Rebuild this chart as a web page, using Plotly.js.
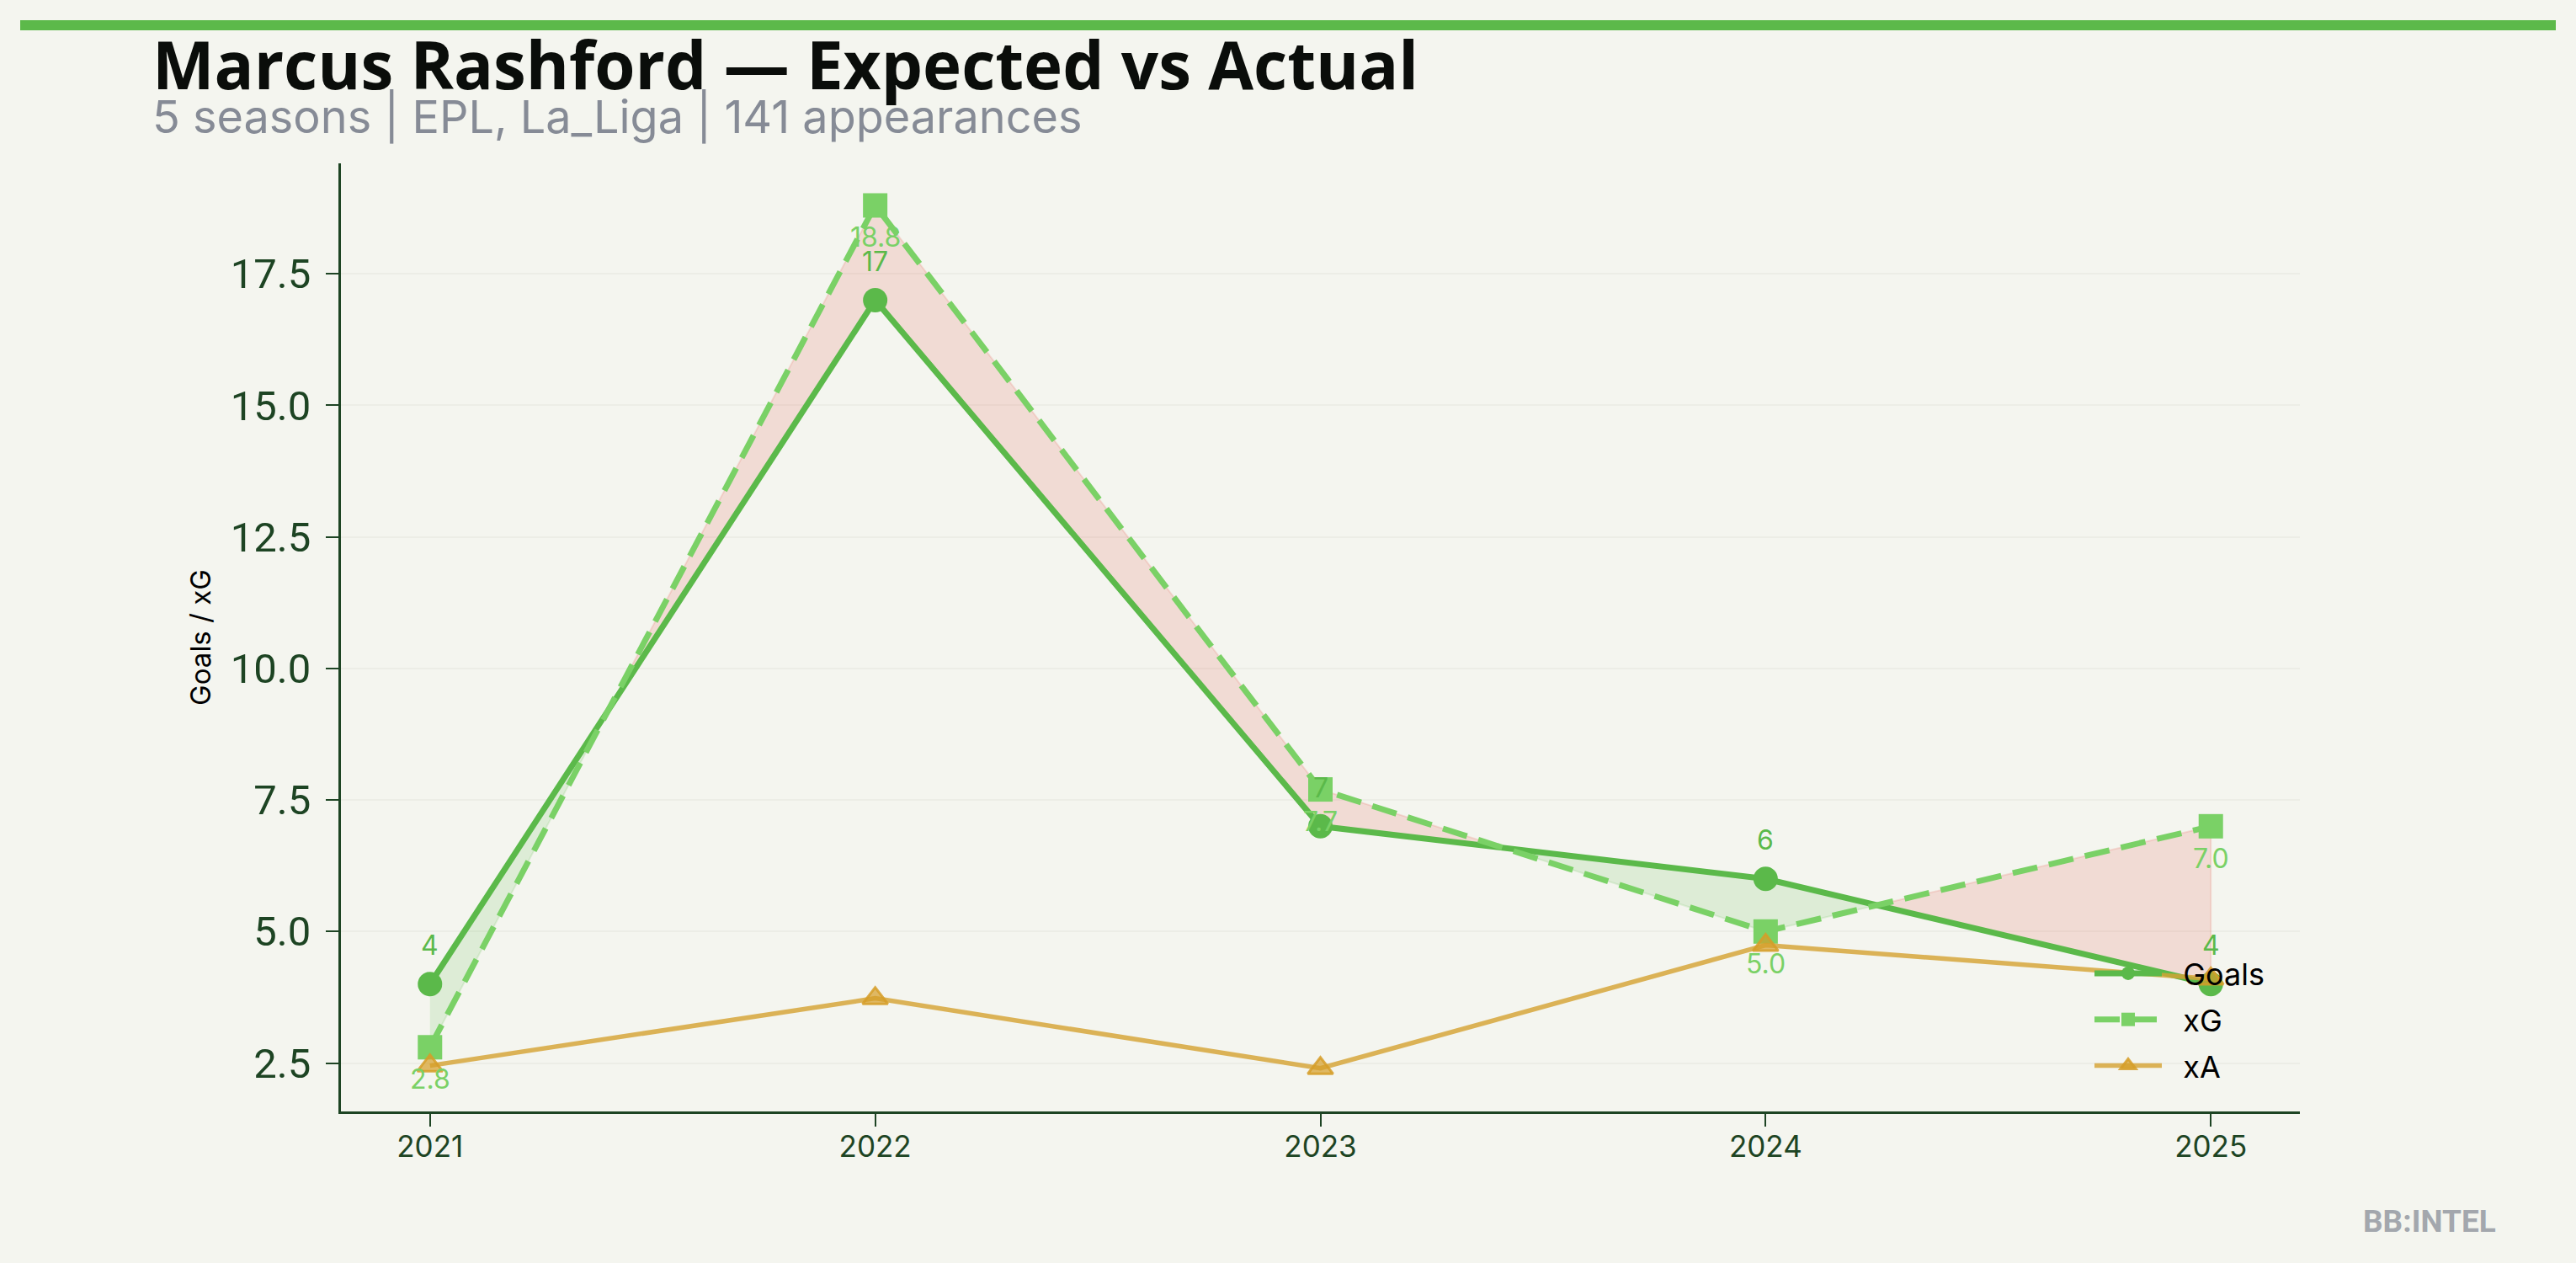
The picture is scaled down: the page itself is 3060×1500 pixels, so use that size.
<!DOCTYPE html>
<html>
<head>
<meta charset="utf-8">
<script src="https://cdn.plot.ly/plotly-3.0.1.min.js"></script>
<style>
html,body{margin:0;padding:0;background:#f4f5ef;}
#chart{width:3060px;height:1500px;}
</style>
</head>
<body>
<div id="chart"></div>
<script>
// ---- data ----
const seasons = [2021, 2022, 2023, 2024, 2025];
const goals = [4, 17, 7, 6, 4];
const xg = [2.8, 18.8, 7.7, 5.0, 7.0];
const xa = [2.45, 3.73, 2.40, 4.74, 4.1];
const goalLabels = ['4', '17', '7', '6', '4'];
const xgLabels = ['2.8', '18.8', '7.7', '5.0', '7.0'];
const seriesNames = ['Goals', 'xG', 'xA'];
const yTickVals = [2.5, 5, 7.5, 10, 12.5, 15, 17.5];
const yTickText = ['2.5', '5.0', '7.5', '10.0', '12.5', '15.0', '17.5'];
const titleText = 'Marcus Rashford — Expected vs Actual';
const subtitleText = '5 seasons | EPL, La_Liga | 141 appearances';
const yTitle = 'Goals / xG';
const watermark = 'BB:INTEL';

// ---- layout geometry ----
const W = 3060, H = 1500;
const L = 405, R = 2732, T = 194, B = 1320;
const px = x => (x - L) / (R - L);
const py = y => (B - y) / (B - T);

const BG = '#f4f5ef';
const GOALS_C = '#5bb94a';
const XG_C = '#7ad166';
const XA_C = 'rgba(214,163,52,0.82)';
const AX_C = '#1d4423';
const PAD = '\u00a0\u00a0';

// ---- fill regions between goals and xG (split at crossings) ----
const pts = [];
for (let i = 0; i < seasons.length; i++) {
  pts.push({x: seasons[i], g: goals[i], e: xg[i], cross: false});
  if (i < seasons.length - 1) {
    const d0 = goals[i] - xg[i], d1 = goals[i + 1] - xg[i + 1];
    if (d0 * d1 < 0) {
      const t = d0 / (d0 - d1);
      pts.push({
        x: seasons[i] + t * (seasons[i + 1] - seasons[i]),
        g: goals[i] + t * (goals[i + 1] - goals[i]),
        e: xg[i] + t * (xg[i + 1] - xg[i]),
        cross: true
      });
    }
  }
}
const fillTraces = [];
let start = 0;
for (let k = 1; k < pts.length; k++) {
  if (pts[k].cross || k === pts.length - 1) {
    const seg = pts.slice(start, k + 1);
    const midG = (seg[0].g + seg[1].g) / 2, midE = (seg[0].e + seg[1].e) / 2;
    const over = midG >= midE;
    const xs = seg.map(p => p.x).concat(seg.slice().reverse().map(p => p.x));
    const ys = seg.map(p => p.g).concat(seg.slice().reverse().map(p => p.e));
    fillTraces.push({
      x: xs, y: ys, type: 'scatter', mode: 'lines', fill: 'toself',
      fillcolor: over ? 'rgba(91,185,74,0.15)' : 'rgba(231,76,60,0.15)',
      line: {color: over ? 'rgba(91,185,74,0.15)' : 'rgba(231,76,60,0.15)', width: 2},
      hoverinfo: 'skip', showlegend: false, legendgroup: 'fill'
    });
    start = k;
  }
}

const traces = fillTraces.concat([
  {
    x: seasons, y: goals, name: PAD + seriesNames[0], legendgroup: 'g', type: 'scatter', mode: 'lines+markers',
    line: {color: GOALS_C, width: 7},
    marker: {color: GOALS_C, size: 29, symbol: 'circle'}
  },
  {
    x: seasons, y: xg, name: PAD + seriesNames[1], legendgroup: 'x', type: 'scatter', mode: 'lines+markers',
    line: {color: XG_C, width: 7, dash: '30px,14px'},
    marker: {color: XG_C, size: 29, symbol: 'square'}
  },
  {
    x: seasons, y: xa, name: PAD + seriesNames[2], legendgroup: 'a', type: 'scatter', mode: 'lines+markers',
    line: {color: XA_C, width: 5.5},
    marker: {color: 'rgba(214,158,40,0.7)', size: 26, symbol: 'triangle-up',
             line: {color: 'rgba(214,158,40,0.85)', width: 3}}
  }
]);

const annotations = [];
seasons.forEach((s, i) => {
  annotations.push({
    x: s, y: goals[i], xref: 'x', yref: 'y', text: goalLabels[i], showarrow: false,
    yshift: 46, font: {family: 'Inter', size: 32, color: GOALS_C}
  });
  annotations.push({
    x: s, y: xg[i], xref: 'x', yref: 'y', text: xgLabels[i], showarrow: false,
    yshift: -38, font: {family: 'Inter', size: 32, color: XG_C}
  });
});
annotations.push({
  xref: 'paper', yref: 'paper', x: px(179), y: py(76), xanchor: 'left', yanchor: 'middle',
  text: '<b>' + titleText + '</b>', showarrow: false,
  font: {family: 'Open Sans', size: 78, color: '#0a0d0a', weight: 800}
});
annotations.push({
  xref: 'paper', yref: 'paper', x: px(179), y: py(138), xanchor: 'left', yanchor: 'middle',
  text: subtitleText, showarrow: false,
  font: {family: 'Inter', size: 54, color: '#868b96'}
});
annotations.push({
  xref: 'paper', yref: 'paper', x: px(2967), y: py(1450), xanchor: 'right', yanchor: 'middle',
  text: '<b>' + watermark + '</b>', showarrow: false,
  font: {family: 'Roboto', size: 37, color: '#a3a7ad'}
});

const layout = {
  width: W, height: H,
  paper_bgcolor: BG, plot_bgcolor: BG,
  margin: {l: L, r: W - R, t: T, b: H - B, pad: 0},
  showlegend: true,
  legend: {
    x: px(2483), y: py(1296), xanchor: 'left', yanchor: 'bottom',
    bgcolor: 'rgba(0,0,0,0)', borderwidth: 0,
    font: {family: 'Inter', size: 36, color: '#000000'},
    itemwidth: 80, tracegroupgap: 5, traceorder: 'grouped'
  },
  xaxis: {
    range: [2020.8, 2025.2], tickmode: 'array', tickvals: seasons,
    ticktext: seasons.map(String),
    showgrid: false, zeroline: false,
    showline: true, linecolor: AX_C, linewidth: 3,
    ticks: 'outside', ticklen: 15, tickwidth: 2, tickcolor: AX_C,
    tickfont: {family: 'Inter', size: 35, color: AX_C},
    ticklabelstandoff: -6
  },
  yaxis: {
    range: [1.58, 19.6], tickmode: 'array', tickvals: yTickVals,
    ticktext: yTickText,
    showgrid: true, gridcolor: '#ecede6', gridwidth: 2, zeroline: false,
    showline: true, linecolor: AX_C, linewidth: 3,
    ticks: 'outside', ticklen: 15, tickwidth: 2, tickcolor: AX_C,
    tickfont: {family: 'Roboto', size: 49, color: AX_C},
    ticklabelstandoff: 8,
    title: {text: yTitle, font: {family: 'Inter', size: 33, color: '#000000'}, standoff: 14}
  },
  shapes: [{
    type: 'rect', xref: 'paper', yref: 'paper',
    x0: px(24), x1: px(3036), y0: py(36), y1: py(24),
    fillcolor: '#5cb94a', line: {width: 0}
  }],
  annotations: annotations
};

Plotly.newPlot('chart', traces, layout, {displayModeBar: false, staticPlot: true});
</script>
</body>
</html>
